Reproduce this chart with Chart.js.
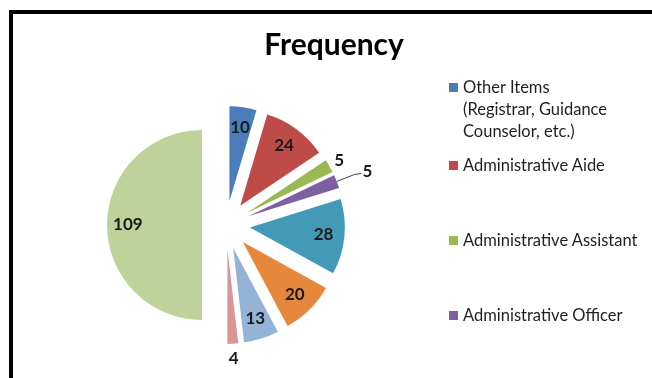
<!DOCTYPE html>
<html>
<head>
<meta charset="utf-8">
<script src="https://cdn.jsdelivr.net/npm/chart.js@4/dist/chart.umd.min.js"></script>
<style>
  html, body { margin: 0; padding: 0; background: #fff; }
  #wrap { position: relative; width: 652px; height: 378px; overflow: hidden; }
  #frame {
    position: absolute; left: 9px; top: 10px; right: -10px; bottom: -10px;
    border-left: 4px solid #000; border-top: 4px solid #000;
  }
  #title {
    position: absolute; left: 0; width: 668px; top: 25px; text-align: center;
    font: bold 30px Lato, sans-serif; color: #000;
  }
  #legend { position: absolute; left: 449px; top: 0; width: 203px; font: 16.5px Lato, sans-serif; color: #1f1f1f; }
  #legend .item { position: absolute; left: 0; white-space: pre; line-height: 22px; padding-left: 14px; }
  #legend .item span { position: absolute; left: 0; top: 7px; width: 9px; height: 9px; }
  #chart { position: absolute; left: 0; top: 0; }
</style>
</head>
<body>
<div id="wrap">
  <div id="frame"></div>
  <canvas id="chart" width="652" height="378"></canvas>
  <div id="title">Frequency</div>
  <div id="legend"></div>
</div>
<script>
const labels = [
  'Other Items\n(Registrar, Guidance\nCounselor, etc.)',
  'Administrative Aide',
  'Administrative Assistant',
  'Administrative Officer',
  'Item 5', 'Item 6', 'Item 7', 'Item 8', 'Item 9'
];
const frequency = [10, 24, 5, 5, 28, 20, 13, 4, 109];
const colors = ['#4a7ebb', '#be4b48', '#98b954', '#7d60a0', '#4399b6', '#e6883c', '#95b3d7', '#d99694', '#bed29a'];
// how far out each value label sits, as a share of the radius
const labelRadius = [0.78, 0.78, 1.12, 1.34, 0.78, 0.78, 0.78, 1.15, 0.78];
const legendTops = [76, 154, 229, 304];

// legend: only the first entries fit inside the frame
const legend = document.getElementById('legend');
legendTops.forEach((top, i) => {
  const div = document.createElement('div');
  div.className = 'item';
  div.style.top = top + 'px';
  div.innerHTML = '<span style="background:' + colors[i] + '"></span>';
  div.appendChild(document.createTextNode(labels[i]));
  legend.appendChild(div);
});

// every slice is pulled out from the centre by the same distance
const EXPLODE = 24;

const explodedSlices = {
  id: 'explodedSlices',
  beforeDatasetDraw(chart, args) {
    const ctx = chart.ctx;
    args.meta.data.forEach((arc) => {
      const mid = (arc.startAngle + arc.endAngle) / 2;
      ctx.save();
      ctx.translate(Math.cos(mid) * EXPLODE, Math.sin(mid) * EXPLODE);
      arc.draw(ctx);
      ctx.restore();
    });
    return false;
  }
};

const valueLabels = {
  id: 'valueLabels',
  afterDatasetsDraw(chart) {
    const ctx = chart.ctx;
    const meta = chart.getDatasetMeta(0);
    ctx.save();
    ctx.font = 'bold 17px Lato, sans-serif';
    ctx.fillStyle = '#1a1a1a';
    ctx.textAlign = 'center';
    ctx.textBaseline = 'middle';
    meta.data.forEach((arc, i) => {
      const { x, y, startAngle, endAngle, outerRadius } = arc;
      const mid = (startAngle + endAngle) / 2;
      const cos = Math.cos(mid), sin = Math.sin(mid);
      const d = EXPLODE + outerRadius * labelRadius[i];
      let lx = x + cos * d, ly = y + sin * d;
      if (labelRadius[i] > 1.25) {
        // leader line for the label pushed furthest out
        const d0 = EXPLODE + outerRadius, d1 = EXPLODE + outerRadius * 1.2;
        const ex = x + cos * d1, ey = y + sin * d1;
        ctx.beginPath();
        ctx.strokeStyle = '#404040';
        ctx.lineWidth = 1;
        ctx.moveTo(x + cos * d0, y + sin * d0);
        ctx.lineTo(ex, ey);
        ctx.lineTo(ex + 7, ey - 1);
        ctx.stroke();
        lx = ex + 13; ly = ey - 3;
      }
      ctx.fillText(String(frequency[i]), lx, ly);
    });
    ctx.restore();
  }
};

new Chart(document.getElementById('chart'), {
  type: 'pie',
  data: {
    labels: labels,
    datasets: [{
      data: frequency,
      backgroundColor: colors,
      borderWidth: 0
    }]
  },
  options: {
    responsive: false,
    animation: false,
    events: [],
    radius: 95,
    layout: { padding: { left: 76, right: 276, top: 86, bottom: 14 } },
    plugins: {
      legend: { display: false },
      title: { display: false },
      tooltip: { enabled: false }
    }
  },
  plugins: [explodedSlices, valueLabels]
});
</script>
</body>
</html>
